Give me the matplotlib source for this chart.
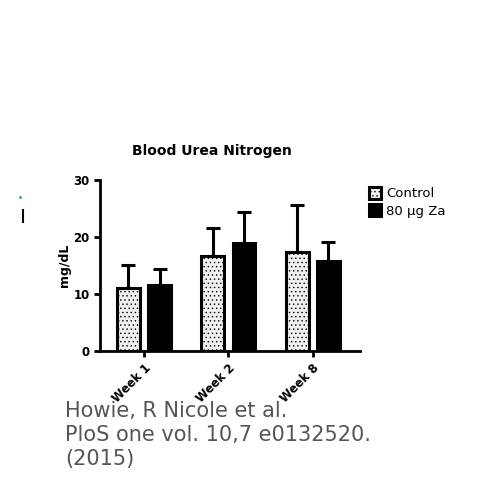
import numpy as np
import matplotlib.pyplot as plt

semanas = ['Week 1', 'Week 2', 'Week 8']
control = [11.1, 16.6, 17.3]
control_sd = [4.0, 4.9, 8.4]
za = [11.5, 19.0, 15.8]
za_sd = [2.8, 5.3, 3.4]

plt.rcParams['hatch.color'] = '#c8c8c8'
plt.rcParams['hatch.linewidth'] = 0.5

fig = plt.figure(figsize=(5, 5), dpi=100)
ax = fig.add_axes([0.2, 0.298, 0.52, 0.342])

x = np.arange(len(semanas))
w = 0.27
ax.bar(x - 0.185, control, w, color='#f0f0f0', edgecolor='black', linewidth=2.2,
       hatch='....', label='Control', zorder=2)
ax.bar(x + 0.185, za, w, color='black', edgecolor='black', linewidth=2.2,
       label='80 μg Za', zorder=2)
ax.errorbar(x - 0.185, control, yerr=[np.zeros(3), control_sd], fmt='none',
            ecolor='black', elinewidth=2.2, capsize=5, capthick=2.2, zorder=1)
ax.errorbar(x + 0.185, za, yerr=[np.zeros(3), za_sd], fmt='none',
            ecolor='black', elinewidth=2.2, capsize=5, capthick=2.2, zorder=1)

ax.set_ylim(0, 30)
ax.set_xlim(-0.52, 2.56)
ax.set_yticks([0, 10, 20, 30])
ax.set_xticks(x)
ax.set_xticklabels(semanas, rotation=45, ha='right', rotation_mode='anchor',
                   fontsize=8.5, fontweight='bold')
for lab in ax.get_yticklabels():
    lab.set_fontsize(8.5)
    lab.set_fontweight('bold')
ax.tick_params(width=2, length=4)
ax.spines['top'].set_visible(False)
ax.spines['right'].set_visible(False)
ax.spines['left'].set_linewidth(2)
ax.spines['bottom'].set_linewidth(2)
ax.set_ylabel('mg/dL', fontsize=9, fontweight='bold', labelpad=2)
ax.set_title('Blood Urea Nitrogen', fontsize=10, fontweight='bold', pad=18, x=0.43)

ax.legend(loc='upper left', bbox_to_anchor=(0.99, 1.03), frameon=False,
          fontsize=9.5, handlelength=0.9, handleheight=1.0, handletextpad=0.4,
          labelspacing=0.3)

# cita
fig.text(0.13, 0.198, 'Howie, R Nicole et al.\nPloS one vol. 10,7 e0132520.\n(2015)',
         fontsize=15, color='#555555', linespacing=1.25, va='top')
fig.add_artist(plt.Line2D([0.046, 0.046], [0.556, 0.58], color='black', lw=1.5))
fig.add_artist(plt.Line2D([0.04], [0.606], marker='.', ms=2, color='#22aa77'))

fig.savefig('out.png', dpi=100)
